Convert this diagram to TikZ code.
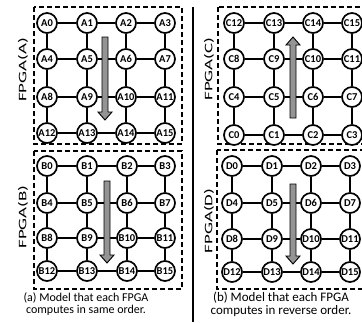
\documentclass[tikz,border=0pt]{standalone}
\usepackage{fontspec}
\setmainfont{Carlito}
\begin{document}
\begin{tikzpicture}[x=1pt,y=-1pt,
  pe/.style={circle,draw,line width=1.7pt,fill=white,minimum size=20pt,inner sep=0pt,
    font=\bfseries\fontsize{10.5}{10.5}\selectfont},
  link/.style={line width=1.8pt},
  fpgabox/.style={draw,line width=1.6pt,dash pattern=on 5pt off 3pt},
  fpgalabel/.style={rotate=90,font=\fontsize{11.5}{11.5}\selectfont},
  fat/.style={draw,line width=0.9pt,fill=black!42},
  caption/.style={align=center,inner sep=0pt,font=\fontsize{12}{12.5}\selectfont},
  captionb/.style={align=center,inner sep=0pt,font=\fontsize{13}{13}\selectfont}]
\useasboundingbox (0,0) rectangle (362,322);
% FPGA boxes
\draw[fpgabox] (34,7) rectangle (182,144);
\draw[fpgabox] (34,151) rectangle (182,289);
\draw[fpgabox] (218,7) rectangle (368,144);
\draw[fpgabox] (217,150) rectangle (368,289);
% separator
\draw[line width=1.8pt] (193,7) -- (193,322);
% labels
\node[fpgalabel] (la) at (23,70) {\scalebox{1.65}[1]{FPGA(A)}};
\node[fpgalabel] (lb) at (23,217) {\scalebox{1.65}[1]{FPGA(B)}};
\node[fpgalabel] (lc) at (209,69) {\scalebox{1.65}[1]{FPGA(C)}};
\node[fpgalabel] (ld) at (209,221) {\scalebox{1.65}[1]{FPGA(D)}};
% grids
\foreach \p/\xa/\xb/\xc/\xd/\ya/\yb/\yc/\yd/\rev in
  {A/47/87/126/165/23/59/97/133/0,
   B/47/87/127/165/166/203/238/271/0,
   C/234/274/313/352/23/59/97/135/1,
   D/232/272/311/350/166/203/239/272/0}{
  \foreach \r/\yy in {0/\ya,1/\yb,2/\yc,3/\yd}{
    \foreach \c/\xx in {0/\xa,1/\xb,2/\xc,3/\xd}{
      \pgfmathtruncatemacro{\idx}{\rev==1 ? 4*(3-\r)+\c : 4*\r+\c}
      \node[pe] (\p\r\c) at (\xx,\yy) {\p\idx};
    }
  }
  \foreach \r in {0,1,2,3}{
    \draw[link] (\p\r0) -- (\p\r1);
    \draw[link] (\p\r1) -- (\p\r2);
    \draw[link] (\p\r2) -- (\p\r3);
  }
  \foreach \c in {0,1,2,3}{
    \draw[link] (\p0\c) -- (\p1\c);
    \draw[link] (\p1\c) -- (\p2\c);
    \draw[link] (\p2\c) -- (\p3\c);
  }
}
% big arrows
\draw[fat] (102,37) -- (108,37) -- (108,112) -- (112,112) -- (105,120) -- (98,112) -- (102,112) -- cycle;
\draw[fat] (104,181) -- (110,181) -- (110,255) -- (114,255) -- (107,263) -- (100,255) -- (104,255) -- cycle;
\draw[fat] (290,118) -- (296,118) -- (296,45) -- (300,45) -- (293,37) -- (286,45) -- (290,45) -- cycle;
\draw[fat] (290,184) -- (296,184) -- (296,256) -- (300,256) -- (293,264) -- (286,256) -- (290,256) -- cycle;
% captions
\node[caption] (capa) at (86,304) {(a) Model that each FPGA\\computes in same order.};
\node[captionb] (capb) at (281,304) {(b) Model that each FPGA\\computes in reverse order.};
\end{tikzpicture}
\end{document}
